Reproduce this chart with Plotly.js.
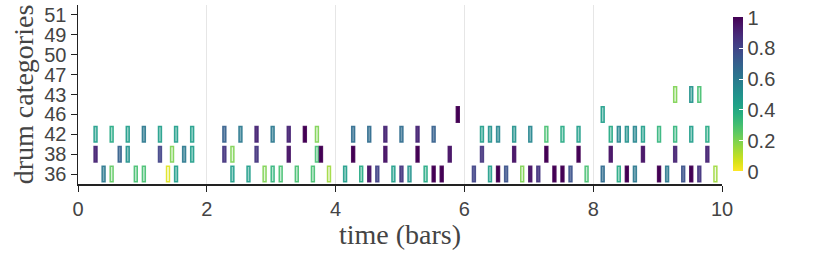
<!DOCTYPE html>
<html><head><meta charset="utf-8">
<script src="https://cdn.plot.ly/plotly-3.0.1.min.js"></script>
<style>html,body{margin:0;padding:0;background:#fff}</style>
</head><body><div id="chart" style="width:830px;height:261px"></div>
<script>
// ---- data ----
const categories = ['36','38','42','46','43','47','50','49','51'];
const noteLength = 0.045;

const onsets36 = [0.375,0.5,0.875,1.0,1.375,1.5,
  2.375,2.625,2.875,3.0,3.125,3.375,3.625,3.875,
  4.125,4.375,4.5,4.625,4.875,5.0,5.125,5.375,5.5,5.625,
  6.125,6.375,6.5,6.625,6.875,7.0,7.125,7.375,7.5,7.625,7.875,
  8.125,8.375,8.5,8.625,9.0,9.125,9.375,9.5,9.625,9.875];
const vel36 = [0.6,0.25,0.3,0.3,0.05,0.45,
  0.45,0.45,0.2,0.35,0.3,0.3,0.3,0.15,
  0.45,0.4,0.95,0.8,0.45,0.85,0.5,0.4,1.0,1.0,
  0.8,0.45,1.0,0.75,0.2,0.95,0.85,1.0,1.0,0.75,0.3,
  0.65,0.4,1.0,0.6,1.0,0.6,0.75,1.0,0.85,0.15];

const onsets38 = [0.25,0.625,0.75,1.25,1.4375,1.625,1.75,
  2.25,2.375,2.75,3.25,3.6875,3.75,
  4.25,4.75,5.25,5.75,
  6.25,6.75,7.25,7.75,
  8.25,8.75,9.25,9.75];
const vel38 = [0.9,0.7,0.5,0.8,0.2,0.6,0.45,
  0.85,0.2,0.85,0.95,0.3,1.0,
  1.0,0.95,1.0,0.95,
  0.85,0.95,1.0,1.0,
  0.95,0.95,0.9,0.9];

const onsets42 = [0.25,0.5,0.75,1.0,1.25,1.5,1.75,
  2.25,2.5,2.75,3.0,3.25,3.5,3.6875,
  4.25,4.5,4.75,5.0,5.25,5.5,
  6.25,6.375,6.5,6.75,7.0,7.25,7.5,7.75,
  8.25,8.375,8.5,8.625,8.75,9.0,9.25,9.5,9.75];
const vel42 = [0.45,0.4,0.45,0.6,0.45,0.45,0.45,
  0.7,0.6,0.9,0.6,0.9,1.0,0.2,
  0.65,0.65,0.9,0.65,0.9,0.7,
  0.45,0.5,0.55,0.5,0.55,0.3,0.4,0.45,
  0.4,0.55,0.5,0.55,0.45,0.35,0.35,0.45,0.4];

const onsets46 = [5.875, 8.125];
const vel46 = [1.0, 0.45];

const onsets43 = [9.25, 9.5, 9.625];
const vel43 = [0.2, 0.5, 0.3];

const xTicks = [0,2,4,6,8,10];
const colorTicks = [0,0.2,0.4,0.6,0.8,1];
const colorTickText = ['0','0.2','0.4','0.6','0.8','1'];

// ---- style helpers ----
const viridis = ['#440154','#48186a','#472d7b','#424086','#3b528b','#33638d','#2c728e','#26828e',
  '#21918c','#1fa088','#28ae80','#3fbc73','#5ec962','#84d44b','#addc30','#d8e219','#fde725'];
function hexRgb(h){return [parseInt(h.slice(1,3),16),parseInt(h.slice(3,5),16),parseInt(h.slice(5,7),16)];}
function colorFor(v, a){
  const t = Math.max(0, Math.min(1, 1 - v)) * (viridis.length - 1);
  const i = Math.min(Math.floor(t), viridis.length - 2), f = t - i;
  const c0 = hexRgb(viridis[i]), c1 = hexRgb(viridis[i+1]);
  const c = c0.map((x,k)=>Math.round(x + (c1[k]-x)*f));
  return 'rgba(' + c[0] + ',' + c[1] + ',' + c[2] + ',' + a + ')';
}

const rows = [['36',onsets36,vel36],['38',onsets38,vel38],['42',onsets42,vel42],['46',onsets46,vel46],['43',onsets43,vel43]];
const ys=[], bases=[], lens=[], fills=[], lines=[], vels=[];
rows.forEach(([cat, ons, vel]) => {
  ons.forEach((t,i) => {
    ys.push(cat); bases.push(t); lens.push(noteLength); vels.push(vel[i]);
    fills.push(colorFor(vel[i], Math.max(0.04, vel[i])));
    lines.push(colorFor(vel[i], 0.9));
  });
});

const notes = {
  type: 'bar', orientation: 'h', y: ys, x: lens, base: bases, width: 0.78,
  marker: {color: fills, line: {color: lines, width: 1.5}},
  customdata: vels, hovertemplate: 'time %{base}<br>velocity %{customdata}<extra></extra>',
  showlegend: false
};

const scale = {
  type: 'scatter', mode: 'markers', x: [null], y: [null], showlegend: false, hoverinfo: 'skip',
  marker: {color: [0], cmin: 0, cmax: 1, colorscale: 'Viridis', reversescale: true, showscale: true,
    colorbar: {x: 1.017, xanchor: 'left', xpad: 0, y: 0.5, yanchor: 'middle', len: 0.86, lenmode: 'fraction', ypad: 0,
      thickness: 10, outlinewidth: 0, ticks: 'inside', ticklen: 4, tickcolor: 'white',
      tickvals: colorTicks, ticktext: colorTickText,
      tickfont: {family: 'Liberation Sans, Arial, sans-serif', size: 20, color: '#444'}}}
};

const layout = {
  width: 830, height: 261, margin: {l: 78, r: 108, t: 5, b: 77},
  paper_bgcolor: '#fff', plot_bgcolor: '#fff', barmode: 'overlay',
  font: {family: 'Liberation Sans, Arial, sans-serif', color: '#444'},
  xaxis: {range: [0,10], tickmode: 'array', tickvals: xTicks, showgrid: true, gridcolor: '#e6e6e6', gridwidth: 1,
    zeroline: false, showline: true, linecolor: '#222', linewidth: 1.5, ticks: 'outside', ticklen: 6, tickcolor: '#222',
    tickfont: {size: 20, color: '#444'},
    title: {text: 'time (bars)', font: {family: 'Liberation Serif, Times New Roman, serif', size: 28, color: '#444'}, standoff: 6}},
  yaxis: {type: 'category', categoryorder: 'array', categoryarray: categories, range: [-0.5, 8.5],
    tickmode: 'array', tickvals: categories, ticktext: categories,
    showgrid: false, zeroline: false, showline: true, linecolor: '#222', linewidth: 1.5, ticks: 'outside', ticklen: 6, tickcolor: '#222',
    tickfont: {size: 20, color: '#444'},
    title: {text: 'drum categories', font: {family: 'Liberation Serif, Times New Roman, serif', size: 28, color: '#444'}, standoff: 2}}
};

Plotly.newPlot('chart', [notes, scale], layout, {displayModeBar: false, staticPlot: true});
</script></body></html>
